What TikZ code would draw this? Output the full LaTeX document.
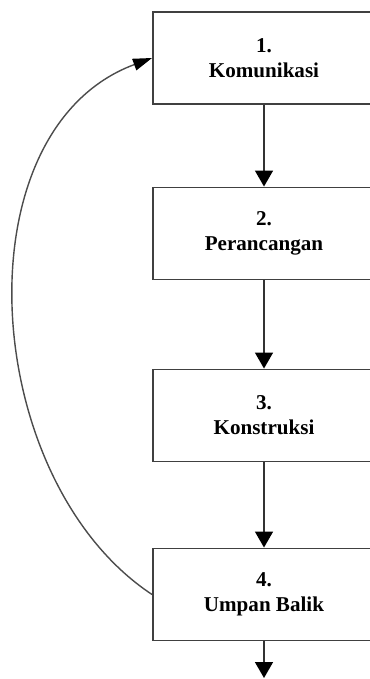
\documentclass[tikz,border=0pt]{standalone}
\usepackage{fontspec}
\setmainfont{Liberation Serif}
\usetikzlibrary{arrows.meta}

\begin{document}
\begin{tikzpicture}[
    tahap/.style = {draw=black!75, line width=1.1pt, fill=white, minimum width=4.44cm,
                    minimum height=1.84cm, align=center, inner sep=0pt,
                    font=\fontsize{12}{14.2}\selectfont\bfseries},
    alur/.style = {draw=black!80, line width=0.9pt, -{Triangle[length=0.32cm, width=0.36cm, color=black]}},
    balik/.style = {draw=black!70, line width=0.8pt, -{Triangle[length=0.38cm, width=0.24cm, color=black]}}
  ]
      \useasboundingbox (0,0) rectangle (7.38,-13.58);

      \node[tahap] (kom) at (5.28,-1.16) {1.\\Komunikasi};
      \node[tahap] (ran) at (5.28,-4.67) {2.\\Perancangan};
      \node[tahap] (kon) at (5.28,-8.31) {3.\\Konstruksi};
      \node[tahap] (umpan) at (5.28,-11.89) {4.\\Umpan Balik};
      \coordinate (akhir) at (5.28,-13.56);

      \draw[alur] (kom) -- (ran);
      \draw[alur] (ran) -- (kon);
      \draw[alur] (kon) -- (umpan);
      \draw[alur] (umpan) -- (akhir);

      % umpan balik kembali ke komunikasi
      \draw[balik] (umpan.west) .. controls (-0.42,-9.6) and (-0.84,-2.6) .. (kom.west);
\end{tikzpicture}
\end{document}
